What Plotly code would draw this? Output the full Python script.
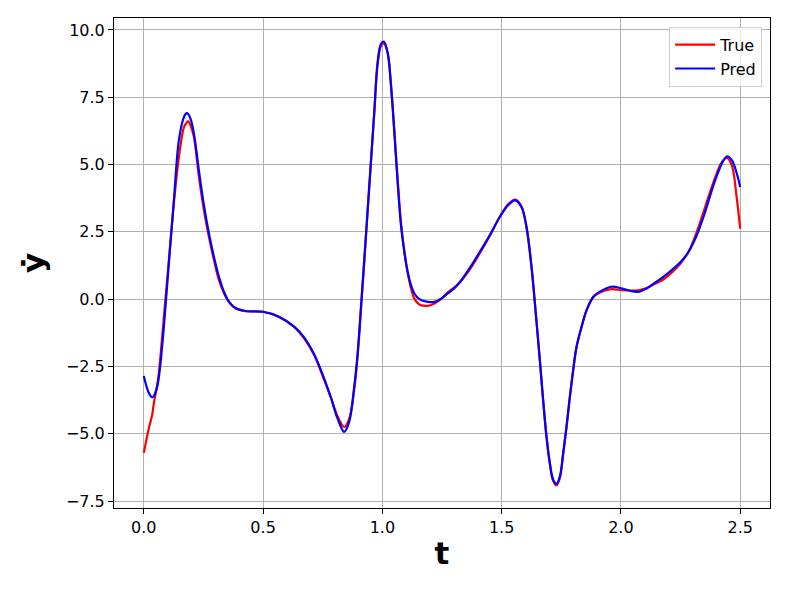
import plotly.graph_objects as go

t = [0.000, 0.021, 0.035, 0.042, 0.056, 0.063, 0.070, 0.084, 0.105, 0.126,
     0.147, 0.168, 0.179, 0.186, 0.196, 0.210, 0.231, 0.252, 0.273, 0.294,
     0.315, 0.336, 0.357, 0.385, 0.427, 0.500, 0.567, 0.630, 0.672, 0.714,
     0.756, 0.784, 0.812, 0.840, 0.861, 0.882, 0.896, 0.910, 0.924, 0.938,
     0.952, 0.966, 0.980, 0.994, 1.006, 1.022, 1.036, 1.050, 1.064, 1.078,
     1.092, 1.106, 1.120, 1.134, 1.155, 1.190, 1.218, 1.246, 1.274, 1.303,
     1.324, 1.366, 1.408, 1.450, 1.492, 1.527, 1.557, 1.583, 1.604, 1.625,
     1.643, 1.660, 1.674, 1.688, 1.702, 1.716, 1.730, 1.744, 1.758, 1.772,
     1.786, 1.800, 1.814, 1.835, 1.856, 1.884, 1.912, 1.960, 2.002, 2.038,
     2.073, 2.108, 2.143, 2.178, 2.213, 2.248, 2.283, 2.318, 2.353, 2.388,
     2.423, 2.444, 2.465, 2.486, 2.500]

y_true = [-5.71, -4.80, -4.30, -3.87, -3.20, -2.75, -2.10, -0.67, 1.45, 3.56,
          5.27, 6.38, 6.55, 6.61, 6.45, 6.02, 4.54, 3.30, 2.31, 1.45,
          0.70, 0.22, -0.10, -0.35, -0.45, -0.47, -0.66, -1.03, -1.46, -2.08,
          -3.00, -3.65, -4.35, -4.75, -4.45, -3.35, -2.15, -0.45, 1.35, 3.20,
          5.05, 6.90, 8.70, 9.40, 9.50, 9.15, 8.00, 6.30, 4.45, 2.85,
          1.80, 1.00, 0.40, 0.02, -0.20, -0.25, -0.16, 0.00, 0.25, 0.45,
          0.62, 1.10, 1.70, 2.35, 3.05, 3.52, 3.70, 3.45, 2.70, 1.25,
          -0.50, -2.25, -3.75, -5.10, -6.10, -6.75, -6.92, -6.65, -5.75, -4.76,
          -3.64, -2.64, -1.78, -1.04, -0.42, 0.07, 0.25, 0.37, 0.33, 0.32,
          0.33, 0.41, 0.57, 0.73, 0.98, 1.30, 1.75, 2.50, 3.42, 4.35,
          5.09, 5.25, 4.97, 3.73, 2.62]

y_pred = [-2.86, -3.49, -3.65, -3.60, -3.25, -2.90, -2.38, -1.03, 1.34, 3.67,
          5.90, 6.76, 6.91, 6.88, 6.70, 6.16, 4.78, 3.49, 2.44, 1.57,
          0.83, 0.27, -0.10, -0.33, -0.44, -0.47, -0.65, -1.02, -1.42, -2.05,
          -2.95, -3.65, -4.43, -4.93, -4.55, -3.25, -2.05, -0.32, 1.46, 3.29,
          5.12, 6.95, 8.80, 9.48, 9.57, 9.17, 7.94, 6.21, 4.35, 2.74,
          1.75, 1.01, 0.52, 0.21, 0.00, -0.10, -0.10, 0.02, 0.21, 0.42,
          0.62, 1.15, 1.75, 2.37, 3.05, 3.49, 3.67, 3.42, 2.68, 1.20,
          -0.53, -2.26, -3.75, -5.11, -6.09, -6.71, -6.86, -6.59, -5.72, -4.74,
          -3.62, -2.63, -1.77, -1.03, -0.41, 0.09, 0.28, 0.46, 0.40, 0.31,
          0.27, 0.40, 0.61, 0.83, 1.08, 1.36, 1.75, 2.37, 3.24, 4.23,
          5.03, 5.30, 5.16, 4.66, 4.17]

x_ticks = [0.0, 0.5, 1.0, 1.5, 2.0, 2.5]
y_ticks = [-7.5, -5.0, -2.5, 0.0, 2.5, 5.0, 7.5, 10.0]

fig = go.Figure()
fig.add_trace(go.Scatter(x=t, y=y_true, name="True", mode="lines",
                         line=dict(color="red", width=2.2, shape="spline", smoothing=1.0)))
fig.add_trace(go.Scatter(x=t, y=y_pred, name="Pred", mode="lines",
                         line=dict(color="blue", width=2.2, shape="spline", smoothing=1.0)))

axis_style = dict(
    showline=True, linecolor="black", linewidth=1, mirror=True,
    ticks="outside", ticklen=5, tickcolor="black", tickwidth=1,
    showgrid=True, gridcolor="#b0b0b0", gridwidth=1, zeroline=False,
    tickfont=dict(family="DejaVu Sans", size=16, color="black"),
)

# page body has an 8px margin, so the figure is shifted and shrunk to fit
fig.update_xaxes(range=[-0.125, 2.625], tickvals=x_ticks, tickformat=".1f",
                 title=dict(text="<b>t</b>", font=dict(family="DejaVu Sans", size=31, color="black"),
                            standoff=6),
                 **axis_style)
fig.update_yaxes(range=[-7.76, 10.445], tickvals=y_ticks, tickformat=".1f",
                 title=dict(text="<b>ẏ</b>", font=dict(family="DejaVu Sans", size=31, color="black"),
                            standoff=12),
                 **axis_style)

fig.update_layout(
    width=781, height=584,
    margin=dict(l=106, r=19, t=10, b=84),
    paper_bgcolor="white", plot_bgcolor="white",
    font=dict(family="DejaVu Sans", size=16, color="black"),
    legend=dict(x=0.988, y=0.982, xanchor="right", yanchor="top",
                bgcolor="rgba(255,255,255,0.8)", bordercolor="#cccccc", borderwidth=1,
                font=dict(size=16), itemwidth=40, tracegroupgap=0),
    showlegend=True,
)

fig.write_html("out.html")
